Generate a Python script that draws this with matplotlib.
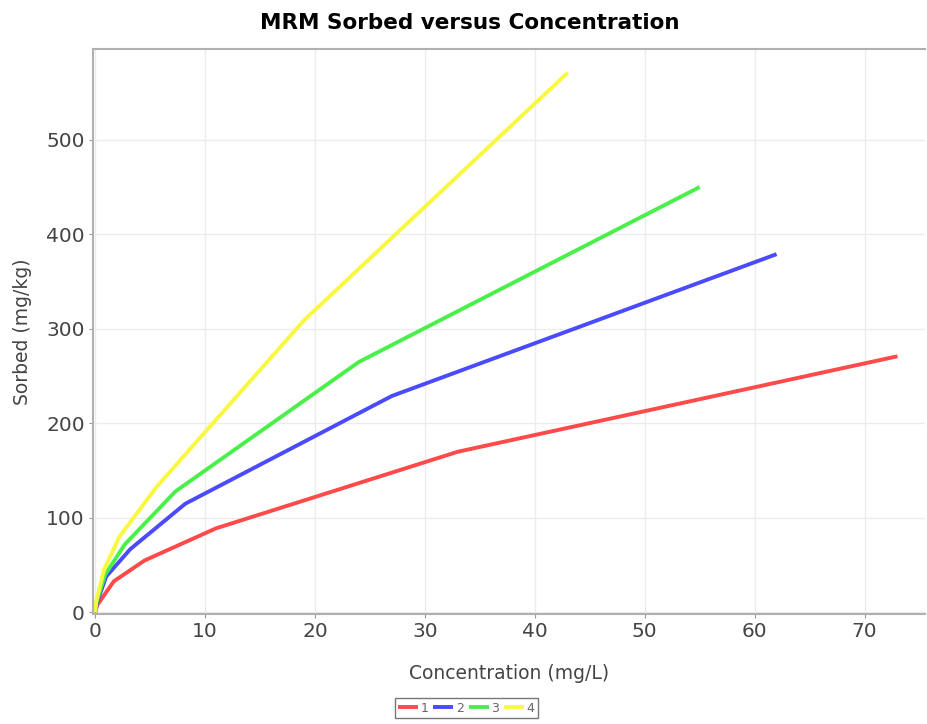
import matplotlib
matplotlib.use("Agg")
from matplotlib import pyplot as plt

# sorption isotherms, concentration (mg/L) vs sorbed (mg/kg)
conc_1 = [0, 0.2, 1.7, 4.5, 11, 33, 73]
sorb_1 = [0, 8, 33, 55, 89, 170, 271]
conc_2 = [0, 0.15, 1.0, 3.2, 8.2, 27, 62]
sorb_2 = [0, 10, 38, 67, 115, 229, 379]
conc_3 = [0, 0.1, 0.9, 2.7, 7.3, 24, 55]
sorb_3 = [0, 10, 40, 72, 128, 265, 450]
conc_4 = [0, 0.1, 0.8, 2.2, 5.6, 19, 43]
sorb_4 = [0, 12, 45, 80, 133, 309, 571]
series_names = ["1", "2", "3", "4"]
x_ticks = [0, 10, 20, 30, 40, 50, 60, 70]
y_ticks = [0, 100, 200, 300, 400, 500]

colors = ["#ff4a4a", "#4a4aff", "#4af04a", "#f8f840"]

fig = plt.figure(figsize=(9.27, 7.24), dpi=100)
ax = fig.add_axes([0.1003, 0.152, 0.8975, 0.7803])

series = [(conc_1, sorb_1), (conc_2, sorb_2), (conc_3, sorb_3), (conc_4, sorb_4)]
for (x, y), c, name in zip(series, colors, series_names):
    ax.plot(x, y, color=c, lw=2.8, label=name, solid_capstyle="butt")

ax.set_xlim(-0.2, 75.5)
ax.set_ylim(-1.6, 596)
ax.set_xticks(x_ticks)
ax.set_yticks(y_ticks)
ax.grid(True, color="#ececec", lw=1)
ax.set_axisbelow(True)
for side in ["left", "bottom", "top"]:
    ax.spines[side].set_color("#b0b0b0")
    ax.spines[side].set_linewidth(1.5)
ax.spines["right"].set_visible(False)
ax.tick_params(axis="both", colors="#999999", length=3, labelsize=14.5,
               labelcolor="#444444", pad=3)

ax.set_xlabel("Concentration (mg/L)", fontsize=13.5, color="#444444", labelpad=16)
ax.set_ylabel("Sorbed (mg/kg)", fontsize=13.5, color="#444444", labelpad=10)
fig.suptitle("MRM Sorbed versus Concentration", fontsize=15.5, fontweight="bold",
             x=0.507, y=0.982)

leg = fig.legend(loc="center", bbox_to_anchor=(0.503, 0.022), ncol=4, fontsize=9,
                 handlelength=1.6, handletextpad=0.2, columnspacing=0.4,
                 frameon=True, fancybox=False, borderpad=0.25, borderaxespad=0)
leg.get_frame().set_edgecolor("#555555")
leg.get_frame().set_linewidth(1)
for t in leg.get_texts():
    t.set_color("#666666")

fig.savefig("out.png", dpi=100)
